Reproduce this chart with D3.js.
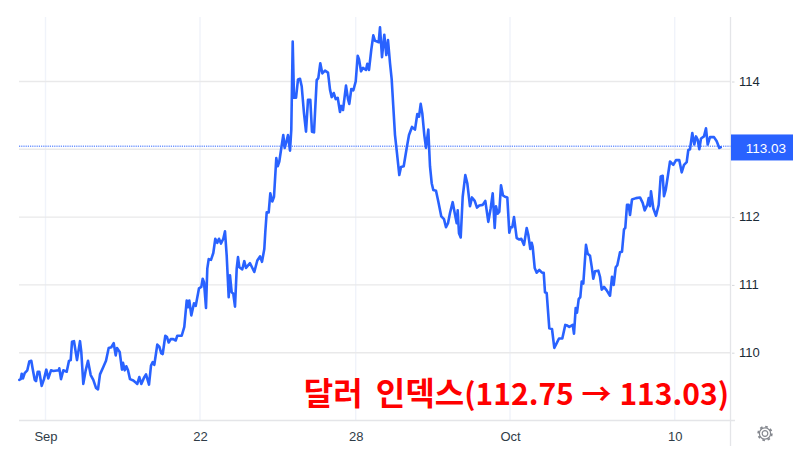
<!DOCTYPE html>
<html><head><meta charset="utf-8">
<script src="https://cdn.jsdelivr.net/npm/d3@7/dist/d3.min.js"></script>
<style>html,body{margin:0;padding:0;background:#fff}svg{display:block}text{font-family:"Liberation Sans",Arial,sans-serif}</style>
</head><body><svg id="c" width="793" height="459"></svg>
<script>
const titleName = "달러 인덱스";
const titleRange = "(112.75 → 113.03)";
const lastPrice = 113.03;
const priceTicks = [110,111,112,113,114];
const priceTickLabels = ["110","111","112","","114"];
const timeTicks = [26.5,181,336.7,491,655.7];
const timeTickLabels = ["Sep","22","28","Oct","10"];
const bars = [0.3,1.7,2.7,4,5.7,8.3,10.3,12.3,13.7,15.7,17,18.7,20.3,22.7,25,27.3,29.3,32,34.3,39.7,40.3,42,44.3,47.7,50,51.7,53,55,58,61,62.3,64.3,66.7,69,71.7,74.3,77,79,81,84.3,87,89.7,92.3,94.7,96.7,98,100.7,103,104,105.7,107.3,109,111,114.3,116.7,118.3,120.3,122.3,125.3,127,130,132,133.7,135.3,138.3,140.3,142.3,143.7,146.3,148,149.7,151.7,154.3,156.7,158.3,162.7,165.3,167.7,169,170.3,172.3,175,176.7,180,182.3,183.7,185,187,188.3,189.7,192,194.3,196.3,198.3,200,202,204.3,206,207.7,209.7,211,212.7,214.3,216,217.7,219,220.3,223.3,225.3,227,231,233,235.3,238.3,241,243,245.3,246.3,
247.7,249.7,251.3,253.3,255,257.3,258.7,260.3,262.3,264.3,265.7,267,269,271,272.3,273.7,275,277,279,281,282.7,285,287,289,291.3,293,295,297.7,299.3,301.3,303.3,306,309,311,312.7,314.7,316.7,318.7,321,322.3,324,327,329,330.3,332.3,334.3,336.7,338.7,340,342,344,347,348.3,350,352.3,354.3,356,358,359.7,361,363,365.3,367.3,369,371,372.7,374.3,376,378,380.3,382,384.7,387.7,390,393,396,398.3,400,401.7,403.3,405.3,407,409.3,411,412.7,414.3,417,419.3,422.3,425,427,429,431,433.7,435.7,437.7,438.7,440,441.7,443.7,446.3,448.3,451,453,455.7,458,460.3,463.7,466.3,469.3,471.7,473.7,475.7,477,478.7,480.3,482,484,486,488.3,490.3,
491.7,493.3,495,497.7,500.3,502.3,505,507.7,509.3,511.3,512.7,513.7,515.7,517.7,520.3,523,524.7,526,527.7,530.3,533,535.3,537.7,540,543.3,546.3,548.3,550.3,553.7,555,556.7,558,559.7,561.3,562.7,564.3,567,568.7,571,572.7,574.3,576,579.3,581,582.7,585,587.7,591,593,594.7,596.7,598.3,601,
603,605,606.3,608,609.7,611,613,617,621,623.7,625.7,628.3,629.7,631,632,634.3,637,639.7,641.7,643.7,645,646.7,649,651,654.3,657,660.3,662.7,665,667.7,669.3,671,673.3,675.3,677,678.7,680.3,682,685,687,688.7,691,695,697.7,700.3,701.7];
const closes = [109.60,109.61,109.69,109.62,109.70,109.74,109.87,109.88,109.76,109.60,109.58,109.72,109.72,109.51,109.61,109.75,109.62,109.74,109.73,109.74,109.77,109.61,109.74,109.72,109.88,109.89,110.16,110.17,109.89,110.17,110.01,109.54,109.74,109.88,109.67,109.60,109.48,109.46,109.68,109.79,109.88,110.07,110.08,110.14,109.96,110.07,110.01,109.75,109.85,109.74,109.80,109.74,109.61,109.59,109.56,109.54,109.64,109.54,109.64,109.68,109.53,109.81,109.86,109.82,110.12,110.09,109.99,109.98,110.25,110.23,110.15,110.20,110.20,110.18,110.25,110.25,110.38,110.77,110.67,110.77,110.55,110.73,110.69,110.95,110.97,111.09,111.04,110.66,111.24,111.38,111.37,111.47,111.68,111.62,111.68,111.61,111.68,111.79,111.43,110.82,111.14,110.89,110.87,110.68,111.24,111.41,111.26,111.23,111.35,111.25,111.32,111.26,111.19,111.36,111.42,111.34,111.53,111.78,
112.07,112.07,112.35,112.23,112.30,112.87,112.75,112.82,113.02,113.21,113.02,113.09,113.21,112.98,113.29,114.59,113.76,113.76,114.03,114.04,113.93,113.53,113.26,113.73,113.73,113.26,113.25,114.02,114.05,114.27,114.12,114.16,114.13,113.88,113.77,113.83,113.74,113.76,113.55,113.64,113.58,113.94,113.74,113.67,113.89,113.87,114.00,114.38,114.33,114.15,114.20,114.17,114.26,114.17,114.47,114.68,114.60,114.59,114.58,114.80,114.36,114.69,114.39,114.61,114.27,114.03,113.63,113.21,112.94,112.62,112.74,112.75,113.02,113.21,113.33,113.29,113.52,113.48,113.67,113.53,113.21,113.02,113.29,112.75,112.50,112.40,112.39,112.23,112.01,111.97,111.85,111.91,112.06,112.22,112.06,111.91,112.10,111.76,111.70,112.30,112.62,112.50,112.16,112.29,112.24,112.14,112.17,112.18,112.24,111.93,112.13,112.35,111.84,112.16,112.05,112.08,112.47,112.32,112.30,112.29,111.77,
111.85,111.85,112.00,111.69,111.67,111.68,111.59,111.84,111.74,111.53,111.62,111.56,111.25,111.18,111.22,111.18,111.18,110.89,110.88,110.36,110.35,110.07,110.14,110.21,110.21,110.41,110.40,110.38,110.41,110.28,110.66,110.59,110.79,110.82,111.05,111.02,111.59,111.46,111.43,111.27,111.09,111.20,111.21,111.12,110.93,110.97,110.92,110.84,111.12,111.00,111.26,111.29,111.48,
111.49,111.82,111.84,112.18,112.18,112.03,112.26,112.28,112.29,112.21,112.10,112.18,112.28,112.16,112.38,112.13,112.02,112.18,112.60,112.61,112.31,112.40,112.62,112.82,112.77,112.84,112.84,112.66,112.77,112.81,112.99,113.00,113.24,113.07,113.19,113.14,113.00,113.16,113.19,113.31,113.07,113.18,113.18,113.12,113.02,113.03];

const svg = d3.select("#c");
const x = d3.scaleLinear().domain([0,711]).range([19,730]);
const y = d3.scaleLinear().domain([109,115]).range([420.5,13.7]);
const plotTop = 17, plotBottom = 420.5, plotLeft = 19, plotRight = 730.5;

// grid
svg.append("g").attr("stroke","#f0f3fa").attr("stroke-width",1.4)
  .selectAll("line").data(timeTicks).join("line")
  .attr("x1",d=>x(d)).attr("x2",d=>x(d)).attr("y1",plotTop).attr("y2",plotBottom);
svg.append("g").attr("stroke","#e9e9ea").attr("stroke-width",1.4)
  .selectAll("line").data(priceTicks).join("line")
  .attr("x1",plotLeft).attr("x2",plotRight).attr("y1",d=>y(d)).attr("y2",d=>y(d));

// axes
const yAxis = d3.axisRight(y).tickValues(priceTicks).tickSize(4).tickPadding(4)
  .tickFormat(d=>priceTickLabels[priceTicks.indexOf(d)]);
const ga = svg.append("g").attr("transform",`translate(${plotRight},0)`).call(yAxis);
ga.select(".domain").remove();
ga.selectAll("line").attr("stroke","#d6d8dc").attr("x1",1.5);
ga.selectAll("text").attr("font-size",13).attr("fill","#1a2a36").attr("x",8.5).attr("y",-0.5).style("font-family","Liberation Sans");

const xAxis = d3.axisBottom(x).tickValues(timeTicks).tickSize(0).tickPadding(0)
  .tickFormat(d=>timeTickLabels[timeTicks.indexOf(d)]);
const gb = svg.append("g").attr("transform",`translate(0,${plotBottom})`).call(xAxis);
gb.select(".domain").remove();
gb.selectAll("text").attr("font-size",13).attr("fill","#2f3c47").attr("y",11).attr("dy","0.71em").style("font-family","Liberation Sans");

svg.append("line").attr("x1",plotLeft).attr("x2",735).attr("y1",plotBottom).attr("y2",plotBottom).attr("stroke","#e4e5e8").attr("stroke-width",1.5);
svg.append("line").attr("x1",plotRight).attr("x2",plotRight).attr("y1",plotTop).attr("y2",446).attr("stroke","#e4e5e8").attr("stroke-width",1.3);

// last-price line
svg.append("line").attr("x1",plotLeft).attr("x2",plotRight).attr("y1",y(lastPrice)-1).attr("y2",y(lastPrice)-1)
  .attr("stroke","#5b86ff").attr("stroke-width",1.5).attr("stroke-dasharray","1.2 1").attr("opacity",.85);

// series
const line = d3.line().x((d,i)=>x(bars[i])).y(d=>y(d));
svg.append("path").datum(closes).attr("d",line).attr("fill","none")
  .attr("stroke","#2962ff").attr("stroke-width",2.6).attr("stroke-linejoin","round").attr("stroke-linecap","round");

// price tag
const tagH = 26;
svg.append("rect").attr("x",731).attr("y",y(lastPrice)-tagH/2+0.2).attr("width",62).attr("height",tagH).attr("fill","#2962ff");
svg.append("text").attr("x",786).attr("y",y(lastPrice)+0.5).attr("dy","0.36em").attr("text-anchor","end")
  .attr("font-size",13.5).attr("fill","#fff").text(lastPrice.toFixed(2));

// title
const title = svg.append("text").attr("x",729).attr("y",405).attr("text-anchor","end")
  .attr("font-weight",700).attr("fill","#ff0000")
  .style("font-family","'Noto Sans CJK KR','Open Sans',sans-serif");
title.append("tspan").attr("font-size",32).attr("word-spacing",6).text(titleName);
title.append("tspan").attr("font-size",30).attr("word-spacing",1).text(titleRange);

// gear
const gear = svg.append("g").attr("transform","translate(765,433.5)").attr("fill","none").attr("stroke","#85888f");
gear.append("circle").attr("r",2.8).attr("stroke-width",1.2);
gear.append("circle").attr("r",5.6).attr("stroke-width",1.2);
gear.append("circle").attr("r",6.8).attr("stroke-width",1.8).attr("stroke-dasharray","2.6 2.74");
</script></body></html>
